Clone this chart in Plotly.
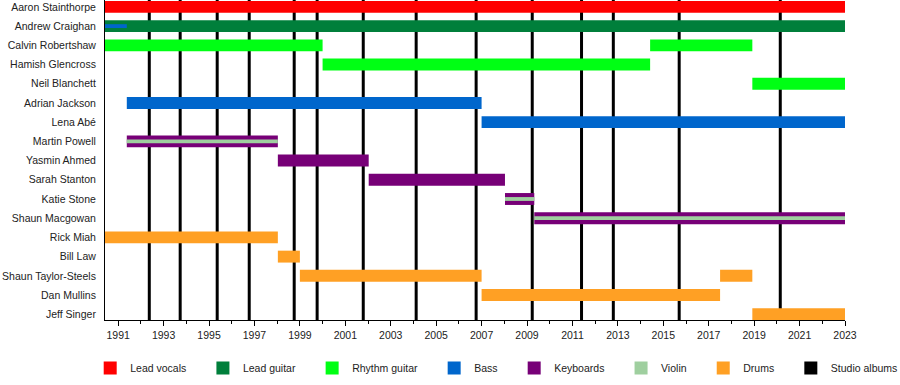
import plotly.graph_objects as go

# ---- data ----
members = [
    "Aaron Stainthorpe", "Andrew Craighan", "Calvin Robertshaw", "Hamish Glencross",
    "Neil Blanchett", "Adrian Jackson", "Lena Abé", "Martin Powell", "Yasmin Ahmed",
    "Sarah Stanton", "Katie Stone", "Shaun Macgowan", "Rick Miah", "Bill Law",
    "Shaun Taylor-Steels", "Dan Mullins", "Jeff Singer",
]

roles = ["Lead vocals", "Lead guitar", "Rhythm guitar", "Bass", "Keyboards", "Violin", "Drums", "Studio albums"]
role_colors = ["#ff0000", "#007f3b", "#00ff14", "#0066cc", "#770077", "#9fcf9f", "#ffa024", "#000000"]

# main membership spans (decimal years)
seg_member = [
    "Aaron Stainthorpe", "Andrew Craighan", "Calvin Robertshaw", "Calvin Robertshaw",
    "Hamish Glencross", "Neil Blanchett", "Adrian Jackson", "Lena Abé",
    "Martin Powell", "Yasmin Ahmed", "Sarah Stanton", "Katie Stone", "Shaun Macgowan",
    "Rick Miah", "Bill Law", "Shaun Taylor-Steels", "Shaun Taylor-Steels",
    "Dan Mullins", "Jeff Singer",
]
seg_role = [
    "Lead vocals", "Lead guitar", "Rhythm guitar", "Rhythm guitar",
    "Rhythm guitar", "Rhythm guitar", "Bass", "Bass",
    "Keyboards", "Keyboards", "Keyboards", "Keyboards", "Keyboards",
    "Drums", "Drums", "Drums", "Drums",
    "Drums", "Drums",
]
seg_start = [1990.42, 1990.42, 1990.42, 2014.42, 2000.0, 2018.92, 1991.38, 2007.0,
             1991.38, 1998.03, 2002.03, 2008.03, 2009.32,
             1990.42, 1998.03, 1999.0, 2017.5, 2007.0, 2018.92]
seg_end = [2023.0, 2023.0, 2000.0, 2018.92, 2014.42, 2023.0, 2007.0, 2023.0,
           1998.03, 2002.03, 2008.03, 2009.32, 2023.0,
           1998.03, 1999.0, 2007.0, 2018.92, 2017.5, 2023.0]

# secondary roles (drawn as a thin stripe over the main bar)
sub_member = ["Andrew Craighan", "Martin Powell", "Katie Stone", "Shaun Macgowan"]
sub_role = ["Bass", "Violin", "Violin", "Violin"]
sub_start = [1990.42, 1991.38, 2008.03, 2009.32]
sub_end = [1991.38, 1998.03, 2009.32, 2023.0]

# studio album release dates
albums = [1992.37, 1993.73, 1995.36, 1996.77, 1998.75, 1999.76, 2001.79, 2004.12,
          2006.76, 2009.23, 2011.40, 2012.80, 2015.70, 2020.15]

x_start, x_end = 1990.42, 2023.0

# ---- figure ----
fig = go.Figure()
row = {m: i for i, m in enumerate(members)}
color = dict(zip(roles, role_colors))

def add_bars(mem, rol, st, en, width):
    for r in roles:
        idx = [i for i, rr in enumerate(rol) if rr == r]
        if not idx:
            continue
        fig.add_trace(go.Bar(
            orientation="h",
            y=[row[mem[i]] for i in idx],
            base=[st[i] for i in idx],
            x=[en[i] - st[i] for i in idx],
            width=width,
            marker=dict(color=color[r], line=dict(width=0)),
            showlegend=False, hoverinfo="skip",
        ))

add_bars(seg_member, seg_role, seg_start, seg_end, 0.62)
add_bars(sub_member, sub_role, sub_start, sub_end, 0.2)

# legend entries
for k, r in enumerate(roles):
    pad = "\u00a0" * 4 if k < len(roles) - 1 else ""
    fig.add_trace(go.Scatter(
        x=[None], y=[None], mode="markers", name=r + pad,
        marker=dict(symbol="square", size=13, color=color[r]),
    ))

shapes = [dict(type="line", xref="x", yref="paper", x0=a, x1=a, y0=0, y1=1,
               line=dict(color="black", width=3), layer="below") for a in albums]

fig.update_layout(
    width=900, height=385,
    margin=dict(l=105, r=55, t=0, b=65, autoexpand=False),
    paper_bgcolor="white", plot_bgcolor="white",
    barmode="overlay",
    font=dict(family="Liberation Sans, Arial, sans-serif", size=10.5, color="#222222"),
    shapes=shapes,
    showlegend=True,
    legend=dict(orientation="h", x=-0.02, xanchor="left", y=-0.15, yanchor="middle",
                font=dict(size=10.5), itemclick=False, itemdoubleclick=False),
    xaxis=dict(range=[x_start, x_end], tick0=1991, dtick=2, ticks="outside", ticklen=5,
               tickcolor="black", showline=True, linecolor="black", linewidth=1,
               showgrid=False, zeroline=False, automargin=False,
               minor=dict(dtick=1, ticks="outside", ticklen=3, tickcolor="black")),
    yaxis=dict(range=[16.3, -0.36], tickmode="array", tickvals=list(range(len(members))),
               ticktext=members, showline=True, linecolor="black", linewidth=1,
               showgrid=False, zeroline=False, ticks="", ticklabelstandoff=6,
               automargin=False),
)

fig.write_html("out.html", config={"displayModeBar": False},
               post_script="document.body.style.margin='0';")
